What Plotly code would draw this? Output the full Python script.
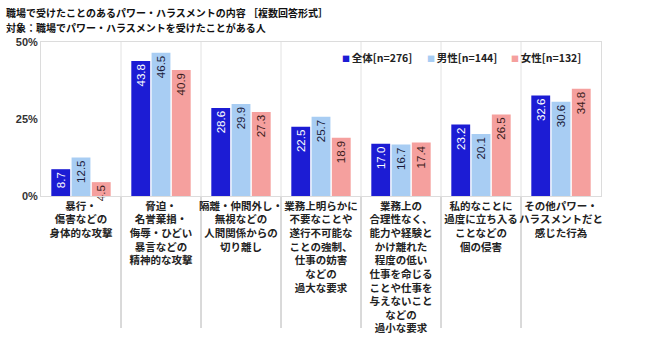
import plotly.graph_objects as go

categories = [
    "暴行・<br>傷害などの<br>身体的な攻撃",
    "脅迫・<br>名誉棄損・<br>侮辱・ひどい<br>暴言などの<br>精神的な攻撃",
    "隔離・仲間外し・<br>無視などの<br>人間関係からの<br>切り離し",
    "業務上明らかに<br>不要なことや<br>遂行不可能な<br>ことの強制、<br>仕事の妨害<br>などの<br>過大な要求",
    "業務上の<br>合理性なく、<br>能力や経験と<br>かけ離れた<br>程度の低い<br>仕事を命じる<br>ことや仕事を<br>与えないこと<br>などの<br>過小な要求",
    "私的なことに<br>過度に立ち入る<br>ことなどの<br>個の侵害",
    "その他パワー・<br>ハラスメントだと<br>感じた行為",
]
series_names = ["全体[n=276]", "男性[n=144]", "女性[n=132]"]
total = [8.7, 43.8, 28.6, 22.5, 17.0, 23.2, 32.6]
male = [12.5, 46.5, 29.9, 25.7, 16.7, 20.1, 30.6]
female = [4.5, 40.9, 27.3, 18.9, 17.4, 26.5, 34.8]
y_ticks = [0, 25, 50]
y_tick_labels = ["0%", "25%", "50%"]
title_lines = ["職場で受けたことのあるパワー・ハラスメントの内容 ［複数回答形式］",
               "対象：職場でパワー・ハラスメントを受けたことがある人"]

colors = ["#1c1cd4", "#a8cdf3", "#f5a09e"]
text_colors = ["#ffffff", "#1a1a3a", "#3a1a1a"]
JP = "Noto Sans CJK JP"
NUM = "Liberation Sans, Arial"

W, H = 646, 350
ML, MR, MT, MB = 41, 45, 42, 154
PW, PH = W - ML - MR, H - MT - MB

x = list(range(len(categories)))
fig = go.Figure()
for name, vals, c, tc in zip(series_names, [total, male, female], colors, text_colors):
    fig.add_trace(go.Bar(
        x=x, y=vals, name=name, marker_color=c, marker_line_width=0,
        text=[f"{v:.1f}" for v in vals], textposition="inside",
        insidetextanchor="end", textangle=-90, constraintext="none",
        textfont=dict(family=NUM, size=11.5, color=tc),
        cliponaxis=False, showlegend=False,
    ))

shapes = []
for i in range(len(categories) - 1):
    shapes.append(dict(type="line", xref="x", yref="paper", x0=i + 0.5, x1=i + 0.5,
                       y0=0, y1=1, line=dict(color="#e2e2e2", width=1), layer="below"))
    shapes.append(dict(type="line", xref="x", yref="paper", x0=i + 0.5, x1=i + 0.5,
                       y0=0, y1=-132 / PH, line=dict(color="#b4b4b4", width=1), layer="below"))

annotations = []
for line, cy in zip(title_lines, [12, 27]):
    annotations.append(dict(
        text=f"<b>{line}</b>",
        xref="paper", yref="paper", x=-(ML - 4) / PW, y=1 + (MT - cy) / PH,
        xanchor="left", yanchor="middle", align="left", showarrow=False,
        font=dict(family=JP, size=10, color="#111"),
    ))
# legend entries (small colored square + text)
legend_left_px = [340, 425, 509]
for name, c, lx in zip(series_names, colors, legend_left_px):
    annotations.append(dict(
        text=f'<span style="color:{c};font-size:8px">■ </span><b>{name}</b>',
        xref="paper", yref="paper", x=(lx - ML) / PW, y=1 + (MT - 57) / PH,
        xanchor="left", yanchor="middle", showarrow=False,
        font=dict(family=JP, size=10.5, color="#222"),
    ))

fig.update_layout(
    width=W, height=H,
    margin=dict(l=ML, r=MR, t=MT, b=MB, autoexpand=False),
    paper_bgcolor="white", plot_bgcolor="white",
    barmode="group", bargap=0.24, bargroupgap=0.07,
    shapes=shapes, annotations=annotations,
    showlegend=False,
    xaxis=dict(
        range=[-0.5, len(categories) - 0.5],
        tickvals=x, ticktext=[f"<b>{c}</b>" for c in categories],
        tickfont=dict(family=JP, size=10.5, color="#222"),
        tickangle=0, automargin=False,
        showgrid=False, zeroline=False, ticks="",
        showline=True, linecolor="#dcdcdc", mirror=True,
    ),
    yaxis=dict(
        range=[0, 50], tickvals=y_ticks, ticktext=y_tick_labels,
        tickfont=dict(family=NUM, size=11, color="#333", weight=700),
        automargin=False,
        showgrid=False, zeroline=False, ticks="",
        showline=True, linecolor="#dcdcdc", mirror=True,
    ),
)
fig.write_html("out.html")
